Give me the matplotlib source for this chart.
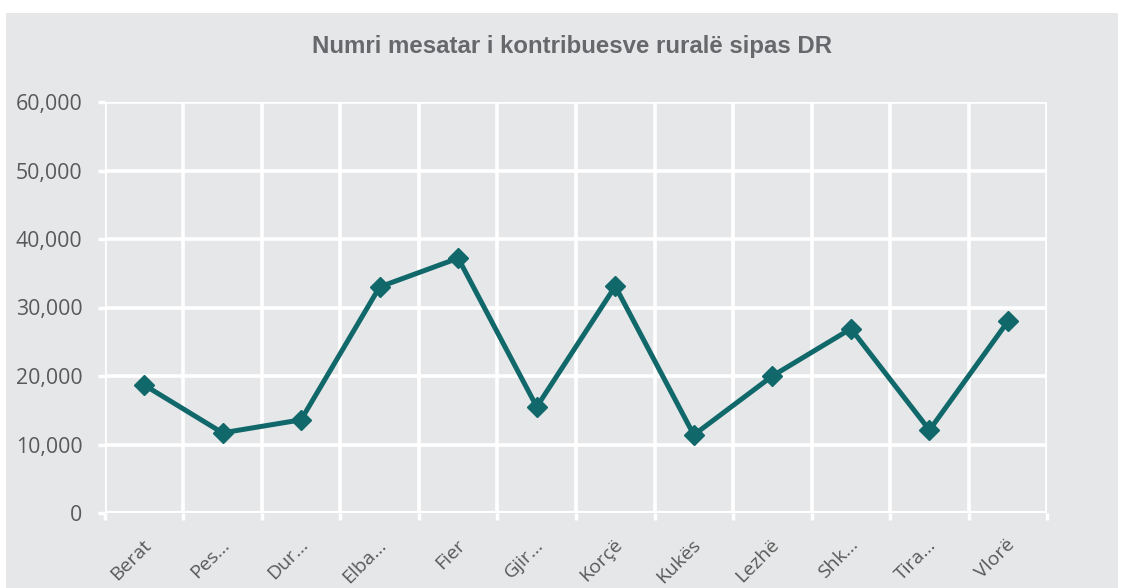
import matplotlib.pyplot as plt
from matplotlib.patches import Rectangle
from matplotlib.ticker import FuncFormatter, FixedLocator
from matplotlib.transforms import ScaledTranslation
import numpy as np

# data
districts = ["Berat", "Pes…", "Dur…", "Elba…", "Fier", "Gjir…", "Korçë",
             "Kukës", "Lezhë", "Shk…", "Tira…", "Vlorë"]
contributors = [18700, 11700, 13600, 33000, 37200, 15500, 33100,
                11400, 20000, 26900, 12100, 28000]
title = "Numri mesatar i kontribuesve ruralë sipas DR"

bg = "#E6E7E8"
teal = "#11686A"
txt = "#595959"

fig = plt.figure(figsize=(11.25, 5.88), dpi=100)
fig.patches.append(Rectangle((6 / 1125, 0), 1112 / 1125, 575 / 588,
                             transform=fig.transFigure, facecolor=bg,
                             edgecolor="none", zorder=-10))

ax = fig.add_axes([104.7 / 1125, 1 - 513 / 588, 942.6 / 1125, 411 / 588])
ax.set_facecolor(bg)

x = np.arange(len(districts))
ax.plot(x, contributors, color=teal, lw=3.6, marker="D", ms=10,
        markeredgecolor=teal, zorder=3, clip_on=False)

ax.set_xlim(-0.5, len(districts) - 0.5)
ax.set_ylim(0, 60000)

ax.set_yticks(np.arange(0, 60001, 10000))
ax.yaxis.set_major_formatter(FuncFormatter(lambda v, p: f"{int(v):,}"))
ax.xaxis.set_major_locator(FixedLocator(np.arange(-0.5, len(districts), 1)))
ax.set_xticklabels([])
ax.set_xticks(x, minor=True)
ax.set_xticklabels(districts, minor=True, rotation=45, ha="right",
                   va="center", rotation_mode="anchor", fontsize=14,
                   color=txt, family="Open Sans")
ax.tick_params(axis="x", which="minor", length=0, pad=21)
ax.tick_params(axis="x", which="major", length=5, width=2.5, color="white")
ax.tick_params(axis="y", length=5, width=2.5, color="white",
               labelsize=15.3, labelcolor=txt, pad=11)
for lab in ax.get_yticklabels():
    lab.set_family("Open Sans")
shift = ScaledTranslation(4 / 100, 0, fig.dpi_scale_trans)
for lab in ax.get_xticklabels(minor=True):
    lab.set_transform(lab.get_transform() + shift)

ax.grid(True, which="major", color="white", lw=2.6)
ax.set_axisbelow(True)
for s in ax.spines.values():
    s.set_visible(False)
ax.axhline(0, color="white", lw=3, zorder=2)

fig.text(572 / 1125, 1 - 47 / 588, title, ha="center", va="center",
         fontsize=17.3, fontweight="bold", color="#67686B",
         family="Liberation Sans")

fig.savefig("out.png", dpi=100)
